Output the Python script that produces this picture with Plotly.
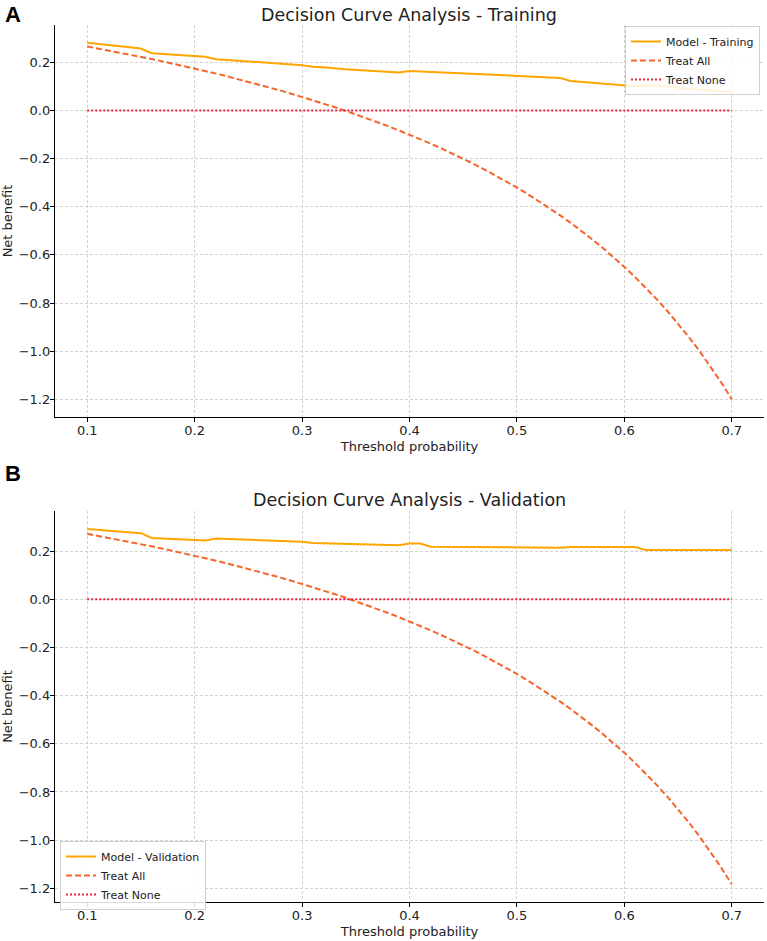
import plotly.graph_objects as go

# ---------------- data ----------------
thresholds = [round(0.10 + 0.01 * i, 2) for i in range(61)]

treat_all_training = [
    0.2667, 0.2584, 0.2500, 0.2414, 0.2326, 0.2235, 0.2143, 0.2048, 0.1951, 0.1852,
    0.1750, 0.1646, 0.1538, 0.1429, 0.1316, 0.1200, 0.1081, 0.0959, 0.0833, 0.0704,
    0.0571, 0.0435, 0.0294, 0.0149, 0.0000, -0.0154, -0.0313, -0.0476, -0.0645, -0.0820,
    -0.1000, -0.1186, -0.1379, -0.1579, -0.1786, -0.2000, -0.2222, -0.2453, -0.2692, -0.2941,
    -0.3200, -0.3469, -0.3750, -0.4043, -0.4348, -0.4667, -0.5000, -0.5349, -0.5714, -0.6098,
    -0.6500, -0.6923, -0.7368, -0.7838, -0.8333, -0.8857, -0.9412, -1.0000, -1.0625, -1.1290,
    -1.2000,
]

treat_all_validation = [
    0.2722, 0.2640, 0.2557, 0.2471, 0.2384, 0.2294, 0.2202, 0.2108, 0.2012, 0.1914,
    0.1813, 0.1709, 0.1603, 0.1494, 0.1382, 0.1267, 0.1149, 0.1027, 0.0903, 0.0775,
    0.0643, 0.0507, 0.0368, 0.0224, 0.0076, -0.0077, -0.0234, -0.0397, -0.0565, -0.0738,
    -0.0917, -0.1102, -0.1293, -0.1491, -0.1696, -0.1909, -0.2130, -0.2358, -0.2596, -0.2843,
    -0.3100, -0.3367, -0.3646, -0.3936, -0.4239, -0.4556, -0.4886, -0.5233, -0.5595, -0.5976,
    -0.6375, -0.6795, -0.7237, -0.7703, -0.8194, -0.8714, -0.9265, -0.9848, -1.0469, -1.1129,
    -1.1833,
]

treat_none = [0.0] * 61

model_training_x = [0.10, 0.15, 0.16, 0.21, 0.22, 0.30, 0.31, 0.32, 0.34, 0.39, 0.40,
                    0.54, 0.55, 0.61, 0.62, 0.64, 0.65, 0.70]
model_training_y = [0.282, 0.258, 0.239, 0.224, 0.214, 0.189, 0.182, 0.180, 0.172, 0.159, 0.165,
                    0.136, 0.123, 0.101, 0.105, 0.102, 0.093, 0.078]

model_validation_x = [0.10, 0.15, 0.16, 0.21, 0.22, 0.30, 0.31, 0.39, 0.40, 0.41, 0.42,
                      0.54, 0.55, 0.61, 0.62, 0.70]
model_validation_y = [0.292, 0.275, 0.255, 0.244, 0.253, 0.239, 0.234, 0.225, 0.232, 0.232, 0.219,
                      0.214, 0.217, 0.217, 0.205, 0.205]

x_ticks = [0.1, 0.2, 0.3, 0.4, 0.5, 0.6, 0.7]
y_ticks = [-1.2, -1.0, -0.8, -0.6, -0.4, -0.2, 0.0, 0.2]

# ---------------- styling ----------------
W, H = 767, 941
C_MODEL = "#FFA500"
C_ALL = "#F5652A"
C_NONE = "#E8283F"
FONT = "DejaVu Sans"

fig = go.Figure()

def add_panel(idx, model_x, model_y, all_y, model_name, legend_name):
    xa = "x" if idx == 1 else "x2"
    ya = "y" if idx == 1 else "y2"
    fig.add_trace(go.Scatter(x=model_x, y=model_y, mode="lines", name=model_name,
                             line=dict(color=C_MODEL, width=2), xaxis=xa, yaxis=ya,
                             legend=legend_name))
    fig.add_trace(go.Scatter(x=thresholds, y=all_y, mode="lines", name="Treat All",
                             line=dict(color=C_ALL, width=2, dash="6px,3px"), xaxis=xa, yaxis=ya,
                             legend=legend_name))
    fig.add_trace(go.Scatter(x=thresholds, y=treat_none, mode="lines", name="Treat None",
                             line=dict(color=C_NONE, width=2, dash="2px,2px"), xaxis=xa, yaxis=ya,
                             legend=legend_name))

add_panel(1, model_training_x, model_training_y, treat_all_training, "Model - Training", "legend")
add_panel(2, model_validation_x, model_validation_y, treat_all_validation, "Model - Validation", "legend2")

def px_x(p):
    return p / W

def px_y(p):
    return 1 - p / H

axis_common = dict(
    showline=True, linecolor="black", linewidth=1.3,
    ticks="outside", ticklen=4, tickwidth=1, tickcolor="black",
    showgrid=True, gridcolor="#d2d2d2", gridwidth=0.8, griddash="3px,2px",
    zeroline=False, automargin=False, ticklabelstandoff=-3,
    tickfont=dict(family=FONT, size=13, color="#222222"),
    title_font=dict(family=FONT, size=13, color="#222222"),
)

x_dom = [px_x(55), px_x(764)]

fig.update_layout(
    width=W, height=H,
    margin=dict(l=0, r=0, t=0, b=0),
    paper_bgcolor="white", plot_bgcolor="white",
    font=dict(family=FONT, color="#222222"),
    xaxis=dict(domain=x_dom, anchor="y", range=[0.07, 0.73], tickvals=x_ticks,
               ticktext=[f"{v:.1f}" for v in x_ticks],
               title=dict(text="Threshold probability", standoff=5), **axis_common),
    yaxis=dict(domain=[px_y(417), px_y(25)], anchor="x", range=[-1.274, 0.356],
               tickvals=y_ticks, ticktext=[f"{v:.1f}".replace("-", "\u2212") for v in y_ticks],
               title=dict(text="Net benefit", standoff=8), **axis_common),
    xaxis2=dict(domain=x_dom, anchor="y2", range=[0.07, 0.73], tickvals=x_ticks,
                ticktext=[f"{v:.1f}" for v in x_ticks],
                title=dict(text="Threshold probability", standoff=5), **axis_common),
    yaxis2=dict(domain=[px_y(902), px_y(511)], anchor="x2", range=[-1.257, 0.367],
                tickvals=y_ticks, ticktext=[f"{v:.1f}".replace("-", "\u2212") for v in y_ticks],
                title=dict(text="Net benefit", standoff=8), **axis_common),
    legend=dict(x=px_x(760), y=px_y(26), xanchor="right", yanchor="top",
                bgcolor="rgba(255,255,255,0.85)", bordercolor="#d0d0d0", borderwidth=1,
                font=dict(family=FONT, size=11, color="#222222"), tracegroupgap=0,
                itemwidth=30),
    legend2=dict(x=px_x(60), y=px_y(841), xanchor="left", yanchor="top",
                 bgcolor="rgba(255,255,255,0.85)", bordercolor="#d0d0d0", borderwidth=1,
                 font=dict(family=FONT, size=11, color="#222222"), tracegroupgap=0,
                 itemwidth=30),
    showlegend=True,
)

annotations = [
    dict(text="Decision Curve Analysis - Training", x=px_x(409), y=px_y(15),
         font=dict(family=FONT, size=17.5, color="#222222")),
    dict(text="Decision Curve Analysis - Validation", x=px_x(409), y=px_y(500),
         font=dict(family=FONT, size=17.5, color="#222222")),
    dict(text="<b>A</b>", x=px_x(13), y=px_y(15), font=dict(family="Liberation Sans", size=22, color="black")),
    dict(text="<b>B</b>", x=px_x(13), y=px_y(473), font=dict(family="Liberation Sans", size=22, color="black")),
]
for a in annotations:
    a.update(xref="paper", yref="paper", xanchor="center", yanchor="middle", showarrow=False)
fig.update_layout(annotations=annotations)

fig.write_html("out.html")
